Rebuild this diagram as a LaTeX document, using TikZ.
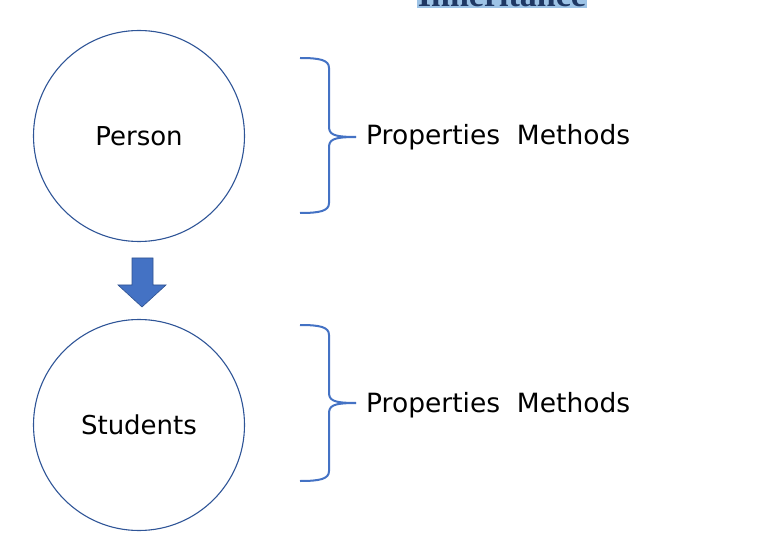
\documentclass[tikz,border=0pt]{standalone}
\usepackage{fontspec}
\setmainfont{DejaVu Sans}
\newfontfamily\titlefont{Liberation Serif}
\definecolor{circblue}{HTML}{2F5597}
\definecolor{brblue}{HTML}{4472C4}
\definecolor{arrowedge}{HTML}{2F528F}
\definecolor{hilite}{HTML}{9DC3E6}
\definecolor{titleblue}{HTML}{1F3864}
\tikzset{
  classcirc/.style={circle, draw=circblue, line width=1.1pt, minimum size=211pt, inner sep=0pt, font=\fontsize{26}{31}\selectfont},
  bracepath/.style={draw=brblue, line width=2pt},
  lbl/.style={anchor=west, inner sep=0pt, font=\fontsize{26.5}{31}\selectfont},
}
\begin{document}
\begin{tikzpicture}[x=1pt,y=-1pt]
\useasboundingbox (0,0) rectangle (766,540);
\begin{scope}
\clip (0,0) rectangle (766,540);
\node[anchor=south, fill=hilite, text=titleblue, inner sep=1pt, font=\titlefont\bfseries\fontsize{34}{40}\selectfont] (title) at (502,8) {Inheritance};
\end{scope}
\node[classcirc] (person) at (139,136) {Person};
\node[classcirc] (students) at (139,425) {Students};
% block arrow
\draw[fill=brblue, draw=arrowedge, line width=0.6pt]
  (132,258) -- (153,258) -- (153,285) -- (166,285) -- (142,307) -- (118,285) -- (132,285) -- cycle;
% brace 1
\coordinate (b1top) at (300,58);
\coordinate (b1bot) at (300,213);
\coordinate (b1tip) at (356,137);
\draw[bracepath] (b1top) .. controls (320,58) and (329,60) .. (329,68) -- (329,126)
  .. controls (329,134) and (332,137) .. (b1tip);
\draw[bracepath] (b1bot) .. controls (320,213) and (329,211) .. (329,203) -- (329,148)
  .. controls (329,140) and (332,137) .. (b1tip);
% brace 2
\coordinate (b2top) at (300,325);
\coordinate (b2bot) at (300,481);
\coordinate (b2tip) at (356,403);
\draw[bracepath] (b2top) .. controls (320,325) and (329,327) .. (329,335) -- (329,392)
  .. controls (329,400) and (332,403) .. (b2tip);
\draw[bracepath] (b2bot) .. controls (320,481) and (329,479) .. (329,471) -- (329,414)
  .. controls (329,406) and (332,403) .. (b2tip);
\node[lbl] (pm1) at (366,137) {Properties\ \ Methods};
\node[lbl] (pm2) at (366,405) {Properties\ \ Methods};
\end{tikzpicture}
\end{document}
